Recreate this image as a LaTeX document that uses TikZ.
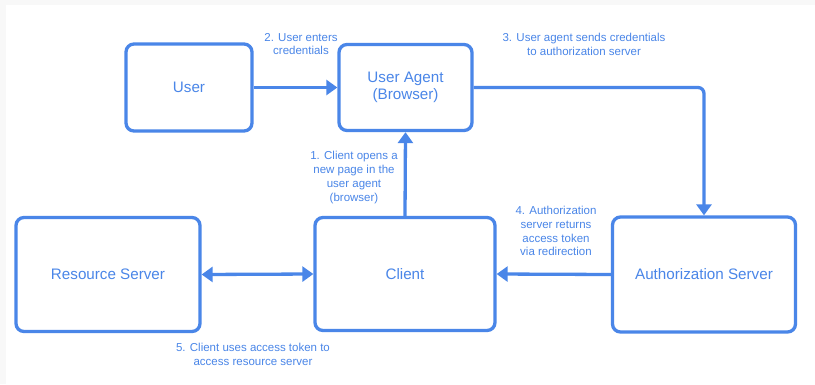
\documentclass[tikz,border=0pt]{standalone}
\usepackage{fontspec}
\setmainfont{Liberation Sans}
\usetikzlibrary{arrows.meta}
\definecolor{flowblue}{RGB}{74,134,232}
\definecolor{frame}{RGB}{248,248,248}
\tikzset{
  entity/.style={draw=flowblue, line width=3.3pt, rounded corners=8pt, fill=white,
    text=flowblue, font=\fontsize{15.2}{17.5}\selectfont, align=center, inner sep=0pt},
  flow/.style={draw=flowblue, line width=3.3pt, -{Triangle[length=11pt,width=15pt]}},
  twoway/.style={draw=flowblue, line width=3.3pt, {Triangle[length=11pt,width=15pt]}-{Triangle[length=11pt,width=15pt]}},
  note/.style={text=flowblue, font=\fontsize{11.5}{13.8}\selectfont, align=center, inner sep=0pt}
}
\begin{document}
\begin{tikzpicture}[x=1pt,y=-1pt]
  % page with a faint frame on the top and left
  \fill[frame] (0,0) rectangle (815,384);
  \fill[white] (6,5) rectangle (815,384);
  \useasboundingbox (0,0) rectangle (815,384);

  % parties
  \node[entity, minimum width=126pt, minimum height=87pt] (user) at (189,87.5) {User};
  \node[entity, minimum width=133pt, minimum height=86pt] (agent) at (405.5,87.5) {User Agent\\(Browser)};
  \node[entity, minimum width=184pt, minimum height=114pt] (rs) at (108,274.5) {Resource Server};
  \node[entity, minimum width=180pt, minimum height=113pt] (client) at (405,274) {Client};
  \node[entity, minimum width=183pt, minimum height=115pt] (as) at (704,274.5) {Authorization Server};

  % corner of the step-3 connector
  \coordinate (bend) at (as.north |- agent.east);

  % messages
  \draw[flow] (client.north) -- (agent.south);
  \draw[flow] (user.east) -- (agent.west);
  \draw[flow, rounded corners=6pt] (agent.east) -- (bend) -- (as.north);
  \draw[flow] (as.west) -- (client.east);
  \draw[twoway] (rs.east) -- (client.west);

  % message labels
  \node[note] (n1) at (354,177.5) {1. Client opens a\\new page in the\\user agent\\(browser)};
  \node[note] (n2) at (301,44) {2. User enters\\credentials};
  \node[note] (n3) at (584,44) {3. User agent sends credentials\\to authorization server};
  \node[note] (n4) at (556,231) {4. Authorization\\server returns\\access token\\via redirection};
  \node[note] (n5) at (253,354.5) {5. Client uses access token to\\access resource server};
\end{tikzpicture}
\end{document}
